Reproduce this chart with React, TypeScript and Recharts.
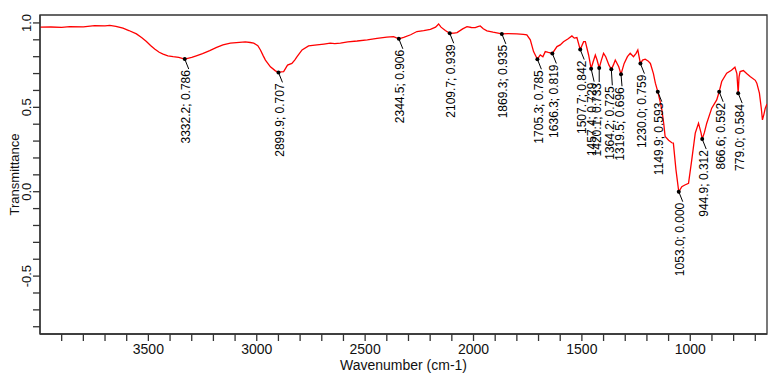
import { ComposedChart, Line, Scatter, XAxis, YAxis, ReferenceArea } from 'recharts';

// FTIR spectrum (wavenumber descending)
const waveNumbers = [
  4000, 3950, 3900, 3863, 3800, 3748, 3700, 3678, 3650, 3617, 3590, 3555, 3530, 3509, 3490, 3471, 3450, 3432, 3410, 3386,
  3360, 3332.2, 3300, 3279, 3250, 3217, 3185, 3156, 3122, 3094, 3053, 3030, 3014, 2995, 2983, 2970, 2960, 2937, 2914, 2899.9,
  2888, 2876, 2865, 2858, 2838, 2825, 2814, 2791, 2761, 2722, 2690, 2661, 2640, 2614, 2580, 2537, 2490, 2445, 2400, 2369,
  2344.5, 2322, 2290, 2261, 2230, 2199, 2175, 2161, 2150, 2130, 2109.7, 2090, 2076, 2050, 2030, 2010, 1992, 1980, 1969, 1955,
  1938, 1910, 1869.3, 1840, 1800, 1770, 1754, 1738, 1723, 1705.3, 1692, 1680, 1669, 1655, 1636.3, 1615, 1600, 1585, 1565, 1546,
  1535, 1523, 1507.7, 1492, 1484, 1469, 1457.4, 1448, 1438, 1430, 1420.1, 1410, 1400, 1390, 1375, 1364.2, 1355, 1346, 1330, 1319.5,
  1305, 1290, 1277, 1262, 1250, 1242, 1230, 1220, 1208, 1195, 1184, 1170, 1161, 1149.9, 1140, 1131, 1122, 1116, 1100, 1085,
  1078, 1066, 1053, 1039, 1025, 1008, 993, 977, 962, 950, 944.9, 935, 924, 901, 878, 866.6, 855, 832, 810, 794,
  785, 779, 775, 770, 755, 740, 724, 700, 693, 681, 672, 667, 660, 654, 646,
];
const transmittance = [
  0.975, 0.976, 0.974, 0.978, 0.977, 0.984, 0.983, 0.986, 0.98, 0.969, 0.955, 0.935, 0.912, 0.89, 0.866, 0.845, 0.826, 0.815, 0.805, 0.8,
  0.796, 0.786, 0.796, 0.805, 0.818, 0.836, 0.855, 0.87, 0.88, 0.883, 0.888, 0.884, 0.88, 0.865, 0.84, 0.805, 0.78, 0.74, 0.716, 0.707,
  0.71, 0.712, 0.735, 0.75, 0.76, 0.78, 0.8, 0.84, 0.864, 0.87, 0.875, 0.88, 0.878, 0.88, 0.888, 0.893, 0.9, 0.909, 0.916, 0.919,
  0.906, 0.915, 0.93, 0.949, 0.955, 0.962, 0.975, 0.994, 0.975, 0.955, 0.939, 0.94, 0.943, 0.965, 0.978, 0.973, 0.972, 0.978, 0.982, 0.965,
  0.953, 0.945, 0.935, 0.937, 0.935, 0.932, 0.929, 0.9, 0.83, 0.785, 0.81, 0.8, 0.83, 0.825, 0.819, 0.86, 0.87, 0.889, 0.905, 0.923,
  0.91, 0.913, 0.842, 0.889, 0.889, 0.81, 0.729, 0.77, 0.81, 0.78, 0.733, 0.78, 0.82, 0.8, 0.75, 0.725, 0.75, 0.78, 0.74, 0.696,
  0.76, 0.8, 0.82, 0.8, 0.82, 0.84, 0.759, 0.78, 0.785, 0.775, 0.76, 0.7, 0.643, 0.593, 0.54, 0.485, 0.4, 0.327, 0.305, 0.29,
  0.288, 0.13, 0.0, 0.03, 0.04, 0.05, 0.19, 0.347, 0.406, 0.347, 0.312, 0.35, 0.406, 0.495, 0.544, 0.592, 0.653, 0.702, 0.72, 0.738,
  0.7, 0.584, 0.68, 0.712, 0.718, 0.7, 0.682, 0.66, 0.643, 0.584, 0.49, 0.426, 0.46, 0.495, 0.52,
];

// labelled peaks
const peakWaves = [3332.2, 2899.9, 2344.5, 2109.7, 1869.3, 1705.3, 1636.3, 1507.7, 1457.4, 1420.1, 1364.2, 1319.5, 1230.0, 1149.9, 1053.0, 944.9, 866.6, 779.0];
const peakValues = [0.786, 0.707, 0.906, 0.939, 0.935, 0.785, 0.819, 0.842, 0.729, 0.733, 0.725, 0.696, 0.759, 0.593, 0.0, 0.312, 0.592, 0.584];

const xTicks = [3900, 3800, 3700, 3600, 3500, 3400, 3300, 3200, 3100, 3000, 2900, 2800, 2700, 2600, 2500, 2400, 2300, 2200, 2100, 2000, 1900, 1800, 1700, 1600, 1500, 1400, 1300, 1200, 1100, 1000, 900, 800, 700];
const xLabels = [3500, 3000, 2500, 2000, 1500, 1000];
const yTicks = [-0.8, -0.7, -0.6, -0.5, -0.4, -0.3, -0.2, -0.1, 0, 0.1, 0.2, 0.3, 0.4, 0.5, 0.6, 0.7, 0.8, 0.9, 1.0];
const yLabels = [1.0, 0.5, 0.0, -0.5];

const X_DOMAIN: [number, number] = [646, 4000];
const Y_DOMAIN: [number, number] = [-0.843, 1.047];

const spectrum = waveNumbers.map((w, i) => ({ w, t: transmittance[i] }));
const peaks = peakWaves.map((w, i) => ({ w, t: peakValues[i], label: `${w.toFixed(1)}; ${peakValues[i].toFixed(3)}` }));

// leader offsets for the crowded 1460-1320 group
const leaders: Record<string, [number, number]> = {
  '1457.4': [3, 13],
  '1420.1': [0, 14],
  '1364.2': [1, 16],
  '1319.5': [1, 12],
};

const AXIS = '#333';
const FONT = '"Liberation Sans", Arial, sans-serif';

function PeakNote(props: any) {
  const { cx, cy, payload } = props;
  if (cx == null || cy == null) return null;
  const [dx, dy] = leaders[payload.w.toFixed(1)] ?? [4, 10];
  const lx = cx + dx;
  const ly = cy + dy;
  const tx = lx + 1.5;
  const ty = ly + 1;
  return (
    <g>
      <line x1={cx} y1={cy} x2={lx} y2={ly} stroke="#000" strokeWidth={1} />
      <circle cx={cx} cy={cy} r={2} fill="#000" />
      <text x={tx} y={ty} transform={`rotate(-90 ${tx} ${ty})`} textAnchor="end" fontSize={12} fontFamily={FONT} fill="#000">
        {payload.label}
      </text>
    </g>
  );
}

function XTick({ x, y, payload }: any) {
  if (!xLabels.includes(payload.value)) return null;
  return (
    <text x={x} y={y} dy="0.71em" textAnchor="middle" fontSize={14} fontFamily={FONT} fill="#111">
      {payload.value}
    </text>
  );
}

function YTick({ x, y, payload }: any) {
  if (!yLabels.some((l) => Math.abs(l - payload.value) < 1e-6)) return null;
  return (
    <text x={x} y={y} transform={`rotate(-90 ${x} ${y})`} textAnchor="middle" fontSize={13} fontFamily={FONT} fill="#111">
      {payload.value.toFixed(1)}
    </text>
  );
}

export default function App() {
  return (
    <div style={{ position: 'absolute', left: 0, top: 0, background: '#fff' }}>
      <ComposedChart width={782} height={380} data={spectrum} margin={{ top: 15, right: 15, bottom: 0, left: 0 }}>
        <XAxis
          dataKey="w" type="number" domain={X_DOMAIN} reversed allowDataOverflow ticks={xTicks} interval={0}
          height={46} tickSize={7} tickMargin={3} tick={<XTick />}
          axisLine={{ stroke: AXIS, strokeWidth: 1.3 }} tickLine={{ stroke: AXIS, strokeWidth: 1.3 }}
          label={{ value: 'Wavenumber (cm-1)', position: 'insideBottom', offset: 10, fontSize: 14, fontFamily: FONT, fill: '#111' }}
        />
        <YAxis
          type="number" domain={Y_DOMAIN} allowDataOverflow ticks={yTicks} interval={0}
          width={40} tickSize={7} tickMargin={2} tick={<YTick />}
          axisLine={{ stroke: AXIS, strokeWidth: 1.3 }} tickLine={{ stroke: AXIS, strokeWidth: 1.3 }}
          label={{ value: 'Transmittance', angle: -90, position: 'center', dx: -5.5, fontSize: 13, fontFamily: FONT, fill: '#111' }}
        />
        <ReferenceArea x1={X_DOMAIN[1]} x2={X_DOMAIN[0]} y1={Y_DOMAIN[0]} y2={Y_DOMAIN[1]} fill="none" stroke={AXIS} strokeWidth={1.3} />
        <Line type="linear" dataKey="t" stroke="#ff0000" strokeWidth={1.3} dot={false} activeDot={false} isAnimationActive={false} />
        <Scatter data={peaks} dataKey="t" shape={<PeakNote />} isAnimationActive={false} />
      </ComposedChart>
    </div>
  );
}
